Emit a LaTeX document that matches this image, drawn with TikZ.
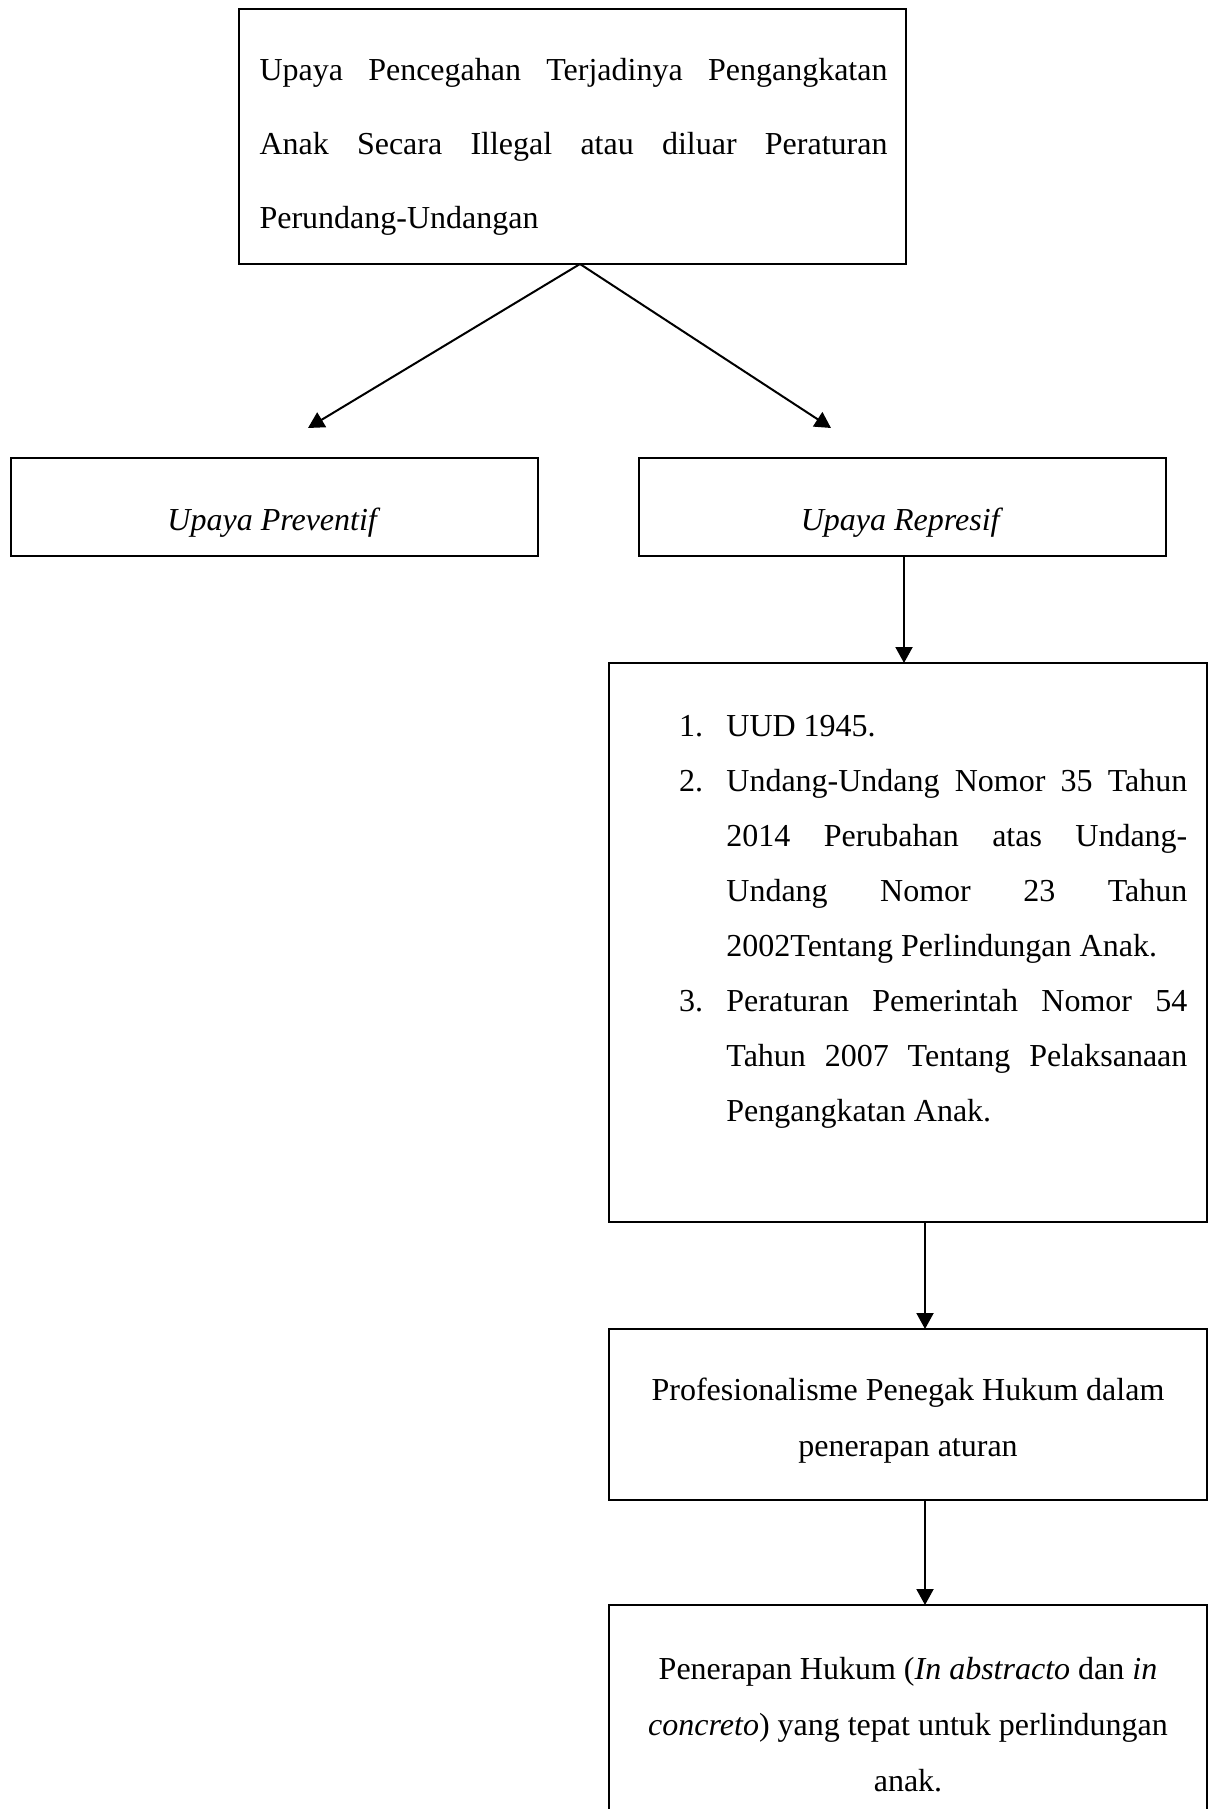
\documentclass[tikz,border=0pt]{standalone}
\usepackage{fontspec}
\setmainfont{Liberation Serif}
\usetikzlibrary{arrows.meta}
\newcommand\jstline[2]{\makebox[#1][s]{\spaceskip=0pt\xspaceskip=0pt\relax #2}}
\begin{document}
\begin{tikzpicture}[x=1pt,y=-1pt,
  box/.style={draw,line width=2pt,rectangle,inner sep=0pt,outer sep=0pt,anchor=north west},
  arr/.style={line width=2pt,-{Triangle[length=16pt,width=17pt]}},
  txt/.style={inner sep=0pt,outer sep=0pt,font=\fontsize{32}{74}\selectfont},
]
\useasboundingbox (0,0) rectangle (1209,1809);
\clip (0,0) rectangle (1209,1809);

% boxes
\node[box,minimum width=667pt,minimum height=255pt] (top) at (239,9) {};
\node[box,minimum width=527pt,minimum height=98pt] (prev) at (10.5,458) {};
\node[box,minimum width=527pt,minimum height=98pt] (rep) at (638.5,458) {};
\node[box,minimum width=598pt,minimum height=558.5pt] (list) at (609,663) {};
\node[box,minimum width=598pt,minimum height=171pt] (prof) at (609,1329) {};
\node[box,minimum width=598pt,minimum height=260pt] (last) at (609,1605) {};

% texts
\node[txt,text width=628pt,align=flush left,anchor=base west] (toptext) at (259.5,81)
  {\jstline{628pt}{Upaya Pencegahan Terjadinya Pengangkatan}\\
   \jstline{628pt}{Anak Secara Illegal atau diluar Peraturan}\\
   Perundang-Undangan};
\node[txt,anchor=base] (prevtext) at (274,530) {\textit{Upaya Preventif}};
\node[txt,anchor=base] (reptext) at (902,530) {\textit{Upaya Represif}};
\node[txt,font=\fontsize{32}{55}\selectfont,text width=510pt,align=flush left,anchor=base west] (listtext) at (679,736.4)
  {\makebox[47.4pt][l]{1.}UUD 1945.\\
   \makebox[47.4pt][l]{2.}\jstline{461pt}{Undang-Undang Nomor 35 Tahun}\\
   \hspace*{47.4pt}\jstline{461pt}{2014 Perubahan atas Undang-}\\
   \hspace*{47.4pt}\jstline{461pt}{Undang Nomor 23 Tahun}\\
   \hspace*{47.4pt}2002Tentang Perlindungan Anak.\\
   \makebox[47.4pt][l]{3.}\jstline{461pt}{Peraturan Pemerintah Nomor 54}\\
   \hspace*{47.4pt}\jstline{461pt}{Tahun 2007 Tentang Pelaksanaan}\\
   \hspace*{47.4pt}Pengangkatan Anak.};
\node[txt,font=\fontsize{32}{56}\selectfont,text width=590pt,align=flush center,anchor=base] (proftext) at (908,1400)
  {Profesionalisme Penegak Hukum dalam\\penerapan aturan};
\node[txt,font=\fontsize{32}{56}\selectfont,text width=590pt,align=flush center,anchor=base] (lasttext) at (908,1679)
  {Penerapan Hukum (\textit{In abstracto} dan \textit{in}\\\textit{concreto}) yang tepat untuk perlindungan\\anak.};

% connectors
\coordinate (apex) at ([xshift=7.5pt]top.south);
\coordinate (tipl) at (308,428);
\coordinate (tipr) at (831,428);
\draw[arr] (apex) -- (tipl);
\draw[arr] (apex) -- (tipr);
\draw[arr] ([xshift=2pt]rep.south) -- ([xshift=2pt]rep.south |- list.north);
\draw[arr] ([xshift=17pt]list.south) -- ([xshift=17pt]list.south |- prof.north);
\draw[arr] ([xshift=17pt]prof.south) -- ([xshift=17pt]prof.south |- last.north);
\end{tikzpicture}
\end{document}
